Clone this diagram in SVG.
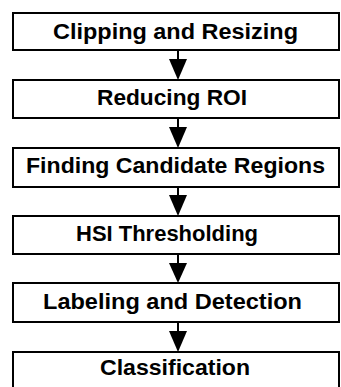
<svg xmlns="http://www.w3.org/2000/svg" width="341" height="387" viewBox="0 0 341 387">
  <defs>
    <style>
      .box { fill: #fff; stroke: #000; stroke-width: 2; }
      .lbl { font-family: "Liberation Sans", Arial, sans-serif; font-weight: bold; font-size: 22px; fill: #000; }
      .link { stroke: #000; stroke-width: 2; fill: none; }
      .head { fill: #000; }
    </style>
  </defs>
  <rect width="341" height="387" fill="#fff"/>

  <g id="connectors">
    <line class="link" x1="178" y1="50" x2="178" y2="60"/>
    <polygon class="head" points="169,59 187,59 178,80"/>
    <line class="link" x1="178" y1="118" x2="178" y2="128"/>
    <polygon class="head" points="169,127 187,127 178,148"/>
    <line class="link" x1="178" y1="187" x2="178" y2="196"/>
    <polygon class="head" points="169,195 187,195 178,216"/>
    <line class="link" x1="178" y1="254" x2="178" y2="264"/>
    <polygon class="head" points="169,263 187,263 178,283"/>
    <line class="link" x1="178" y1="322" x2="178" y2="332"/>
    <polygon class="head" points="169,331 187,331 178,352"/>
  </g>

  <g id="clipping">
    <rect class="box" x="13" y="13" width="326" height="37"/>
    <text class="lbl" x="53" y="39" textLength="245" lengthAdjust="spacingAndGlyphs">Clipping and Resizing</text>
  </g>
  <g id="reducing-roi">
    <rect class="box" x="13" y="80" width="326" height="38"/>
    <text class="lbl" x="97" y="105" textLength="150" lengthAdjust="spacingAndGlyphs">Reducing ROI</text>
  </g>
  <g id="candidate-regions">
    <rect class="box" x="13" y="148" width="326" height="39"/>
    <text class="lbl" x="26" y="173" textLength="299" lengthAdjust="spacingAndGlyphs">Finding Candidate Regions</text>
  </g>
  <g id="hsi-thresholding">
    <rect class="box" x="13" y="216" width="326" height="38"/>
    <text class="lbl" x="76" y="241" textLength="182" lengthAdjust="spacingAndGlyphs">HSI Thresholding</text>
  </g>
  <g id="labeling-detection">
    <rect class="box" x="13" y="283" width="326" height="39"/>
    <text class="lbl" x="43" y="309" textLength="259" lengthAdjust="spacingAndGlyphs">Labeling and Detection</text>
  </g>
  <g id="classification">
    <rect class="box" x="13" y="352" width="326" height="45"/>
    <text class="lbl" x="100" y="375" textLength="150" lengthAdjust="spacingAndGlyphs">Classification</text>
  </g>
</svg>
